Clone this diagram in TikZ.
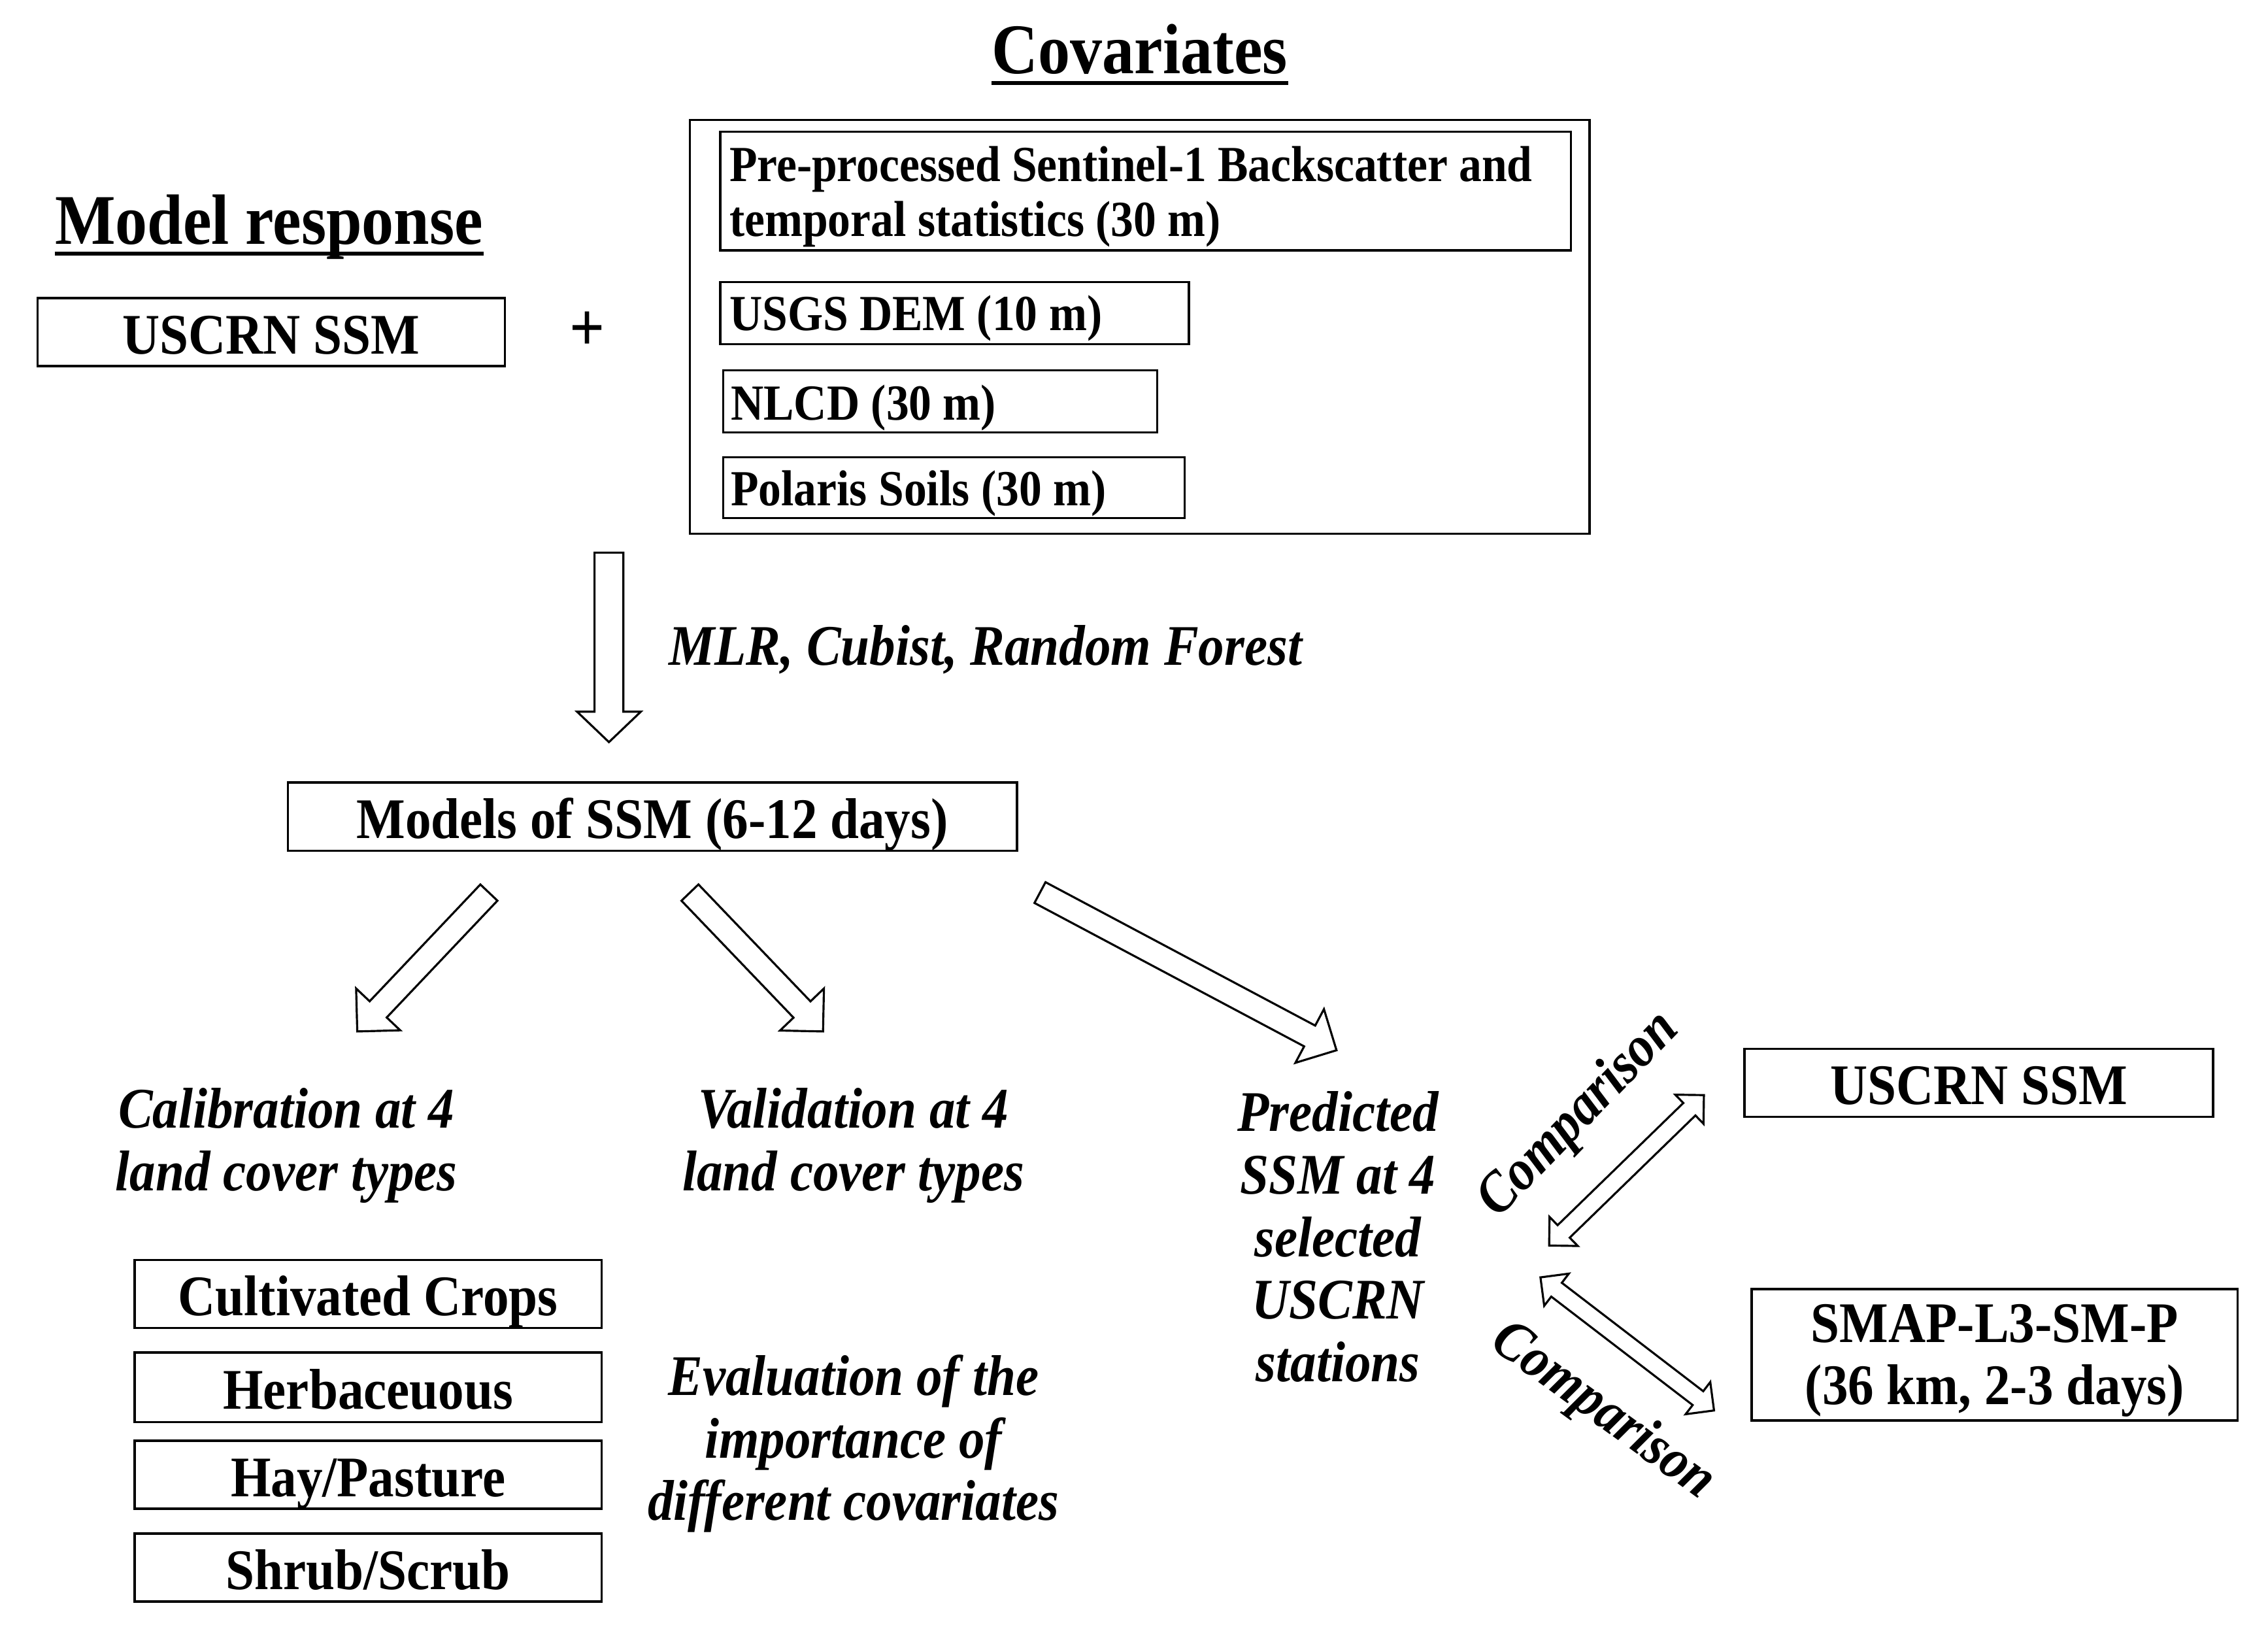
\documentclass[tikz,border=0pt]{standalone}
\usepackage{fontspec}
\setmainfont{Liberation Serif}[FakeStretch=0.9]
\usetikzlibrary{calc}
\newcommand\boxat[6]{\node[#1, minimum width={(#4-#2)*0.2213mm}, minimum height={(#5-#3)*0.2213mm}] (#6) at ({(#2+#4)/2},{(#3+#5)/2})}
\newcommand\blockarrow[6]{%
  \coordinate (#1c) at ($(#3)!#6!(#2)$);
  \draw[barrow] ($(#2)!#4!90:(#3)$) -- ($(#1c)!#4!-90:(#2)$) -- ($(#1c)!#5!-90:(#2)$) -- (#3)
    -- ($(#1c)!#5!90:(#2)$) -- ($(#1c)!#4!90:(#2)$) -- ($(#2)!#4!-90:(#3)$) -- cycle;}
\newcommand\dblarrow[6]{%
  \coordinate (#1c) at ($(#3)!#6!(#2)$);
  \coordinate (#1d) at ($(#2)!#6!(#3)$);
  \draw[barrow] (#2) -- ($(#1d)!#5!90:(#3)$) -- ($(#1d)!#4!90:(#3)$) -- ($(#1c)!#4!-90:(#2)$)
    -- ($(#1c)!#5!-90:(#2)$) -- (#3) -- ($(#1c)!#5!90:(#2)$) -- ($(#1c)!#4!90:(#2)$)
    -- ($(#1d)!#4!-90:(#3)$) -- ($(#1d)!#5!-90:(#3)$) -- cycle;}
\begin{document}
\begin{tikzpicture}[x=0.2213mm, y=-0.2213mm,
  box/.style={draw, line width=1pt, fill=white, inner sep=0pt, align=center,
    font=\bfseries\fontsize{25}{27}\selectfont},
  sbox/.style={box, text height=19pt, text depth=0pt},
  cov/.style={draw, line width=1pt, inner sep=0pt},
  covtxt/.style={inner sep=0pt, align=left, font=\bfseries\fontsize{22}{24}\selectfont},
  lab/.style={inner sep=0pt, align=center, font=\bfseries\itshape\fontsize{25}{27.2}\selectfont},
  title/.style={inner sep=0pt, font=\bfseries\fontsize{31}{33}\selectfont},
  uline/.style={line width=1.6pt},
  barrow/.style={draw, line width=0.9pt, fill=white, line join=miter}]
\useasboundingbox (0,0) rectangle (1568,1126);

% titles
\node[title, anchor=base] (cvt) at (788,51) {Covariates};
\draw[uline] ([yshift=-1.4mm]cvt.base west) -- ([yshift=-1.4mm]cvt.base east);
\node[title, anchor=base] (mr) at (186,169) {Model response};
\draw[uline] ([yshift=-1.4mm]mr.base west) -- ([yshift=-1.4mm]mr.base east);

% model response
\boxat{sbox}{26}{206}{349}{253}{resp} {USCRN SSM};
\node[inner sep=0pt, font=\bfseries\fontsize{30}{30}\selectfont] (plus) at (406,229) {+};

% covariates
\boxat{cov}{477}{83}{1099}{369}{covout} {};
\boxat{cov}{498}{91}{1086}{173}{c1} {};
\node[covtxt, anchor=west] (c1t) at (504,136) {Pre-processed Sentinel-1 Backscatter and\\temporal statistics (30 m)};
\boxat{cov}{498}{195}{822}{238}{c2} {};
\node[covtxt, anchor=west] (c2t) at (504,220) {USGS DEM (10 m)};
\boxat{cov}{500}{256}{800}{299}{c3} {};
\node[covtxt, anchor=west] (c3t) at (505,282) {NLCD (30 m)};
\boxat{cov}{500}{316}{819}{358}{c4} {};
\node[covtxt, anchor=west] (c4t) at (505,341) {Polaris Soils (30 m)};

% main down arrow
\coordinate (dA) at (421,382);
\coordinate (dB) at (421,513);
\blockarrow{da}{dA}{dB}{2.21mm}{4.87mm}{4.65mm}
\node[lab, anchor=west] (mlr) at (462,449) {MLR, Cubist, Random Forest};

% models box
\boxat{sbox}{199}{541}{703}{588}{models} {Models of SSM (6-12 days)};

% three arrows
\coordinate (a1A) at (338,617);
\coordinate (a1B) at (247,713);
\blockarrow{aa}{a1A}{a1B}{1.8mm}{4.65mm}{4.65mm}
\coordinate (a2A) at (477,617);
\coordinate (a2B) at (569,713);
\blockarrow{ab}{a2A}{a2B}{1.8mm}{4.65mm}{4.65mm}
\coordinate (a3A) at (719,617);
\coordinate (a3B) at (924,726);
\blockarrow{ac}{a3A}{a3B}{1.8mm}{4.65mm}{4.65mm}

% labels
\node[lab] (calib) at (198,792) {Calibration at 4\\land cover types};
\node[lab] (valid) at (590,792) {Validation at 4\\land cover types};
\node[lab] (pred) at (925,855) {Predicted\\SSM at 4\\selected\\USCRN\\stations};
\node[lab] (eval) at (590,998) {Evaluation of the\\importance of\\different covariates};

% land cover boxes
\boxat{sbox}{93}{871}{416}{918}{lc1} {Cultivated Crops};
\boxat{sbox}{93}{935}{416}{983}{lc2} {Herbaceuous};
\boxat{sbox}{93}{996}{416}{1043}{lc3} {Hay/Pasture};
\boxat{sbox}{93}{1060}{416}{1107}{lc4} {Shrub/Scrub};

% comparison targets
\boxat{sbox}{1206}{725}{1530}{772}{obs} {USCRN SSM};
\boxat{box}{1211}{891}{1547}{982}{smap} {};
\node[inner sep=0pt, align=center, font=\bfseries\fontsize{25}{27}\selectfont] (smapt) at ([yshift=-0.9mm]smap.center) {SMAP-L3-SM-P\\(36 km, 2-3 days)};

% double arrows
\coordinate (d1A) at (1071,861);
\coordinate (d1B) at (1178,757);
\dblarrow{dx}{d1A}{d1B}{1.33mm}{3.1mm}{3.1mm}
\coordinate (d2A) at (1065,883);
\coordinate (d2B) at (1185,975);
\dblarrow{dy}{d2A}{d2B}{1.33mm}{3.1mm}{3.1mm}
\node[lab, rotate=46] (cmp1) at (1092,771) {Comparison};
\node[lab, rotate=-36] (cmp2) at (1108,976) {Comparison};
\end{tikzpicture}
\end{document}
